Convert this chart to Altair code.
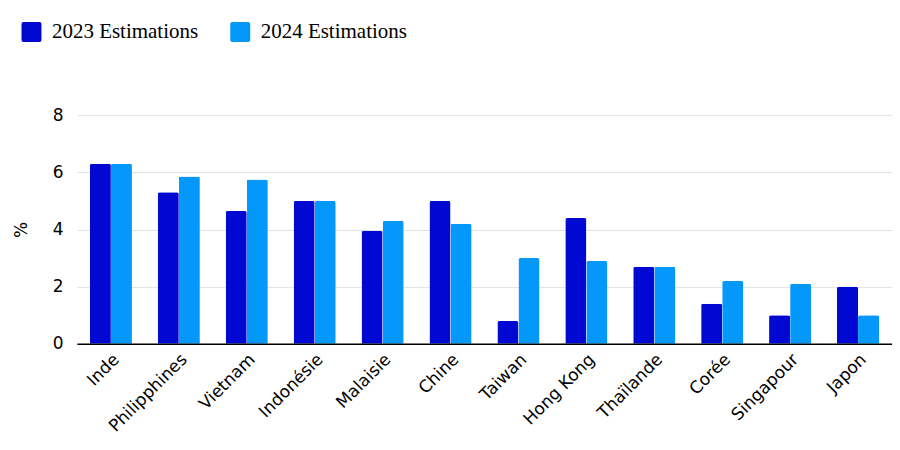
import altair as alt
import pandas as pd

countries = ["Inde", "Philipphines", "Vietnam", "Indonésie", "Malaisie", "Chine",
             "Taiwan", "Hong Kong", "Thaïlande", "Corée", "Singapour", "Japon"]
est_2023 = [6.3, 5.3, 4.65, 5.0, 3.95, 5.0, 0.8, 4.4, 2.7, 1.4, 1.0, 2.0]
est_2024 = [6.3, 5.85, 5.75, 5.0, 4.3, 4.2, 3.0, 2.9, 2.7, 2.2, 2.1, 1.0]
series = ["2023 Estimations", "2024 Estimations"]
colors = ["#0008D2", "#0598FB"]

rows = []
for i, c in enumerate(countries):
    rows.append({"pays": c, "serie": series[0], "valeur": est_2023[i]})
    rows.append({"pays": c, "serie": series[1], "valeur": est_2024[i]})
df = pd.DataFrame(rows)

rounded_square = ("M -0.8 -1 H 0.8 Q 1 -1 1 -0.8 V 0.8 Q 1 1 0.8 1 H -0.8 "
                  "Q -1 1 -1 0.8 V -0.8 Q -1 -1 -0.8 -1 Z")

chart = alt.Chart(df).mark_bar(cornerRadiusTopLeft=2, cornerRadiusTopRight=2).encode(
    x=alt.X("pays:N", sort=countries, title=None,
            scale=alt.Scale(paddingInner=0.38, paddingOuter=0.19),
            axis=alt.Axis(labelAngle=-45, labelAlign="right", labelBaseline="top",
                          labelFont="DejaVu Sans", labelFontSize=17, labelColor="#000000",
                          labelPadding=7, ticks=False, domainColor="#000000",
                          domainWidth=1.5, grid=False, zindex=1)),
    xOffset=alt.XOffset("serie:N", sort=series),
    y=alt.Y("valeur:Q", title="%",
            scale=alt.Scale(domain=[0, 8]),
            axis=alt.Axis(values=[0, 2, 4, 6, 8], domain=False, ticks=False,
                          labelFont="DejaVu Sans", labelFontSize=17, labelColor="#000000",
                          labelPadding=14, gridColor="#e3e3e3", gridWidth=1,
                          titleFont="DejaVu Sans", titleFontSize=17, titleFontWeight="normal",
                          titleColor="#000000", titlePadding=22)),
    color=alt.Color("serie:N", sort=series,
                    scale=alt.Scale(domain=series, range=colors),
                    legend=alt.Legend(title=None, orient="none", direction="horizontal",
                                      legendX=-56, legendY=-94, padding=0,
                                      symbolType=rounded_square, symbolSize=400,
                                      symbolStrokeWidth=0, labelFont="Liberation Serif",
                                      labelFontSize=21, labelColor="#000000",
                                      labelOffset=10, columnPadding=31)),
).properties(
    width=816, height=229,
    autosize=alt.AutoSizeParams(type="none"),
    padding={"left": 69, "top": 107, "right": 0, "bottom": 95},
).configure_view(stroke=None)

chart.save("out.html", embed_options={"renderer": "svg", "actions": False})
